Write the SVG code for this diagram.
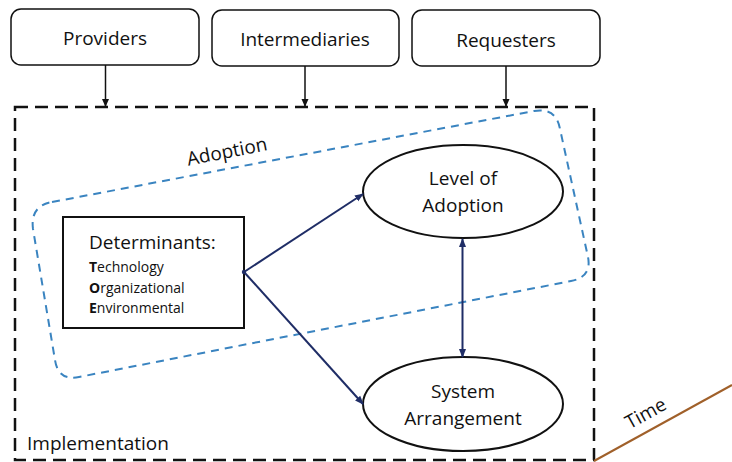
<svg xmlns="http://www.w3.org/2000/svg" width="732" height="462" viewBox="0 0 732 462">
<style>
text{font-family:"Open Sans","Liberation Sans",sans-serif;fill:#111;}
.box{fill:#fff;stroke:#111;stroke-width:1.5;}
.t20{font-size:19px;}
.t15{font-size:14px;}
.nav{stroke:#1f2d66;stroke-width:2;fill:none;}
.blk{stroke:#111;stroke-width:1.5;fill:none;}
</style>
<defs>
<marker id="ab" markerWidth="8" markerHeight="8" refX="7" refY="4" orient="auto" markerUnits="userSpaceOnUse"><path d="M0,0.5 L8,4 L0,7.5 Z" fill="#111"/></marker>
<marker id="an" markerWidth="9" markerHeight="8" refX="8" refY="4" orient="auto-start-reverse" markerUnits="userSpaceOnUse"><path d="M0,0.5 L9,4 L0,7.5 Z" fill="#1f2d66"/></marker>
</defs>
<rect x="0" y="0" width="732" height="462" fill="#fff"/>
<g id="implementation">
<rect x="15" y="107" width="579" height="353" fill="none" stroke="#111" stroke-width="2.5" stroke-dasharray="13,7"/>
<text x="27" y="450" class="t20">Implementation</text>
</g>
<g id="adoption">
<path d="M52,202 L534,111 Q556,107 560,129 L588,257 Q592,277 571,281 L79,377 Q58,381 55,360 L33,229 Q30,206 52,202 Z" fill="none" stroke="#3a84c0" stroke-width="2" stroke-dasharray="8,6"/>
<text x="227" y="158" class="t20" text-anchor="middle" transform="rotate(-11 227 152)">Adoption</text>
</g>
<g id="providers">
<rect x="11" y="9" width="188" height="56" rx="10" class="box"/>
<text x="105" y="45" class="t20" text-anchor="middle">Providers</text>
</g>
<g id="intermediaries">
<rect x="212" y="10" width="187" height="56" rx="10" class="box"/>
<text x="305" y="46" class="t20" text-anchor="middle">Intermediaries</text>
</g>
<g id="requesters">
<rect x="412" y="10" width="188" height="56" rx="10" class="box"/>
<text x="506" y="47" class="t20" text-anchor="middle">Requesters</text>
</g>
<g id="determinants">
<rect x="63" y="217" width="181" height="111" fill="#fff" stroke="#111" stroke-width="2"/>
<text x="89" y="249" class="t20">Determinants:</text>
<text x="89" y="272" class="t15"><tspan font-weight="bold">T</tspan>echnology</text>
<text x="89" y="293" class="t15"><tspan font-weight="bold">O</tspan>rganizational</text>
<text x="89" y="313" class="t15"><tspan font-weight="bold">E</tspan>nvironmental</text>
</g>
<g id="level-of-adoption">
<ellipse cx="463" cy="191.5" rx="100" ry="46.5" fill="#fff" stroke="#111" stroke-width="2"/>
<text x="463" y="185" class="t20" text-anchor="middle">Level of</text>
<text x="463" y="212" class="t20" text-anchor="middle">Adoption</text>
</g>
<g id="system-arrangement">
<ellipse cx="463" cy="404" rx="100" ry="47" fill="#fff" stroke="#111" stroke-width="2"/>
<text x="463" y="398" class="t20" text-anchor="middle">System</text>
<text x="463" y="425" class="t20" text-anchor="middle">Arrangement</text>
</g>
<g id="time">
<line x1="594" y1="461" x2="732" y2="385" stroke="#a0602a" stroke-width="2"/>
<text x="645" y="420" class="t20" text-anchor="middle" transform="rotate(-29 645 412)">Time</text>
</g>
<g id="connectors">
<line x1="105.5" y1="65" x2="105.5" y2="106" class="blk" marker-end="url(#ab)"/>
<line x1="305" y1="66" x2="305" y2="106" class="blk" marker-end="url(#ab)"/>
<line x1="506" y1="66" x2="506" y2="106" class="blk" marker-end="url(#ab)"/>
<circle cx="244" cy="272" r="2.2" fill="#1f2d66"/>
<line x1="244" y1="272" x2="363" y2="194" class="nav" marker-end="url(#an)"/>
<line x1="244" y1="272" x2="363" y2="404" class="nav" marker-end="url(#an)"/>
<line x1="462.5" y1="239" x2="462.5" y2="357" class="nav" marker-start="url(#an)" marker-end="url(#an)"/>
</g>
</svg>
